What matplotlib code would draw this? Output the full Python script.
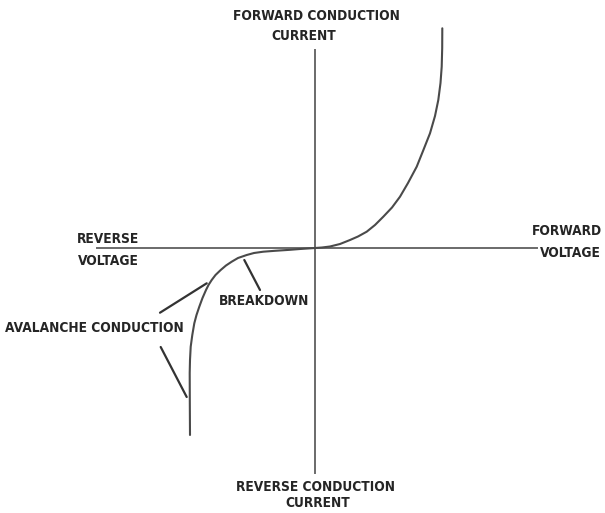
import matplotlib
matplotlib.use("Agg")
import matplotlib.pyplot as plt

# diode I-V characteristic, arbitrary units (origin where the axes cross)
fwd_v = [0, 0.7, 1.5, 2.5, 3.5, 4.3, 5.17, 6.0, 6.83, 7.7, 8.5, 9.3, 10.17,
         10.8, 11.5, 12.0, 12.33, 12.55, 12.67, 12.72, 12.73]
fwd_i = [0, 0.05, 0.15, 0.4, 0.8, 1.15, 1.63, 2.3, 3.13, 4.05, 5.13, 6.5, 8.13,
         9.7, 11.47, 13.2, 14.8, 16.5, 18.13, 20.0, 21.97]

rev_v = [0, -1.5, -2.5, -4.0, -5.17, -6.1, -6.83, -7.7, -8.33, -8.9, -9.43, -9.95,
         -10.33, -10.65, -10.9, -11.25, -11.57, -11.85, -12.07, -12.27, -12.43,
         -12.5, -12.53, -12.52, -12.5]
rev_i = [0, -0.1, -0.18, -0.28, -0.37, -0.5, -0.7, -1.0, -1.37, -1.75, -2.2, -2.7,
         -3.2, -3.7, -4.2, -5.0, -5.87, -6.7, -7.53, -8.7, -9.87,
         -11.2, -12.5, -15.2, -18.7]

fig = plt.figure(figsize=(6.05, 5.13), dpi=100)
ax = fig.add_axes([0, 0, 1, 1])
ax.set_xlim(-31.5, 29.0)
ax.set_ylim(-26.5, 24.8)
ax.axis('off')

# axes of the sketch
ax.plot([-21.8, 22.2], [0, 0], color='#6a6a6a', lw=1.4)
ax.plot([0, 0], [-22.5, 19.8], color='#6a6a6a', lw=1.4)

# the curves
ax.plot(fwd_v, fwd_i, color='#4a4a4a', lw=1.5, solid_capstyle='round', solid_joinstyle='round')
ax.plot(rev_v, rev_i, color='#4a4a4a', lw=1.5, solid_capstyle='round', solid_joinstyle='round')

txt = dict(fontsize=9.8, fontweight='bold', family='DejaVu Sans', fontstretch='condensed',
           color='#252525', ha='center', va='center')
ax.text(0.1, 23.2, 'FORWARD CONDUCTION', **txt)
ax.text(-1.15, 21.2, 'CURRENT', **txt)
ax.text(0.05, -23.9, 'REVERSE CONDUCTION', **txt)
ax.text(0.3, -25.5, 'CURRENT', **txt)
ax.text(25.15, 1.7, 'FORWARD', **txt)
ax.text(25.55, -0.5, 'VOLTAGE', **txt)
ax.text(-20.7, 0.9, 'REVERSE', **txt)
ax.text(-20.7, -1.3, 'VOLTAGE', **txt)
ax.text(-22.1, -8.0, 'AVALANCHE CONDUCTION', **txt)
ax.text(-5.1, -5.3, 'BREAKDOWN', **txt)

# pointer lines
arrow = dict(arrowstyle='-', color='#333333', lw=1.6, shrinkA=0, shrinkB=0)
ax.annotate('', xy=(-7.07, -1.2), xytext=(-5.5, -4.2), arrowprops=arrow)
ax.annotate('', xy=(-10.83, -3.53), xytext=(-15.5, -6.47), arrowprops=arrow)
ax.annotate('', xy=(-12.83, -14.9), xytext=(-15.43, -9.9), arrowprops=arrow)

fig.savefig('out.png', dpi=100)
